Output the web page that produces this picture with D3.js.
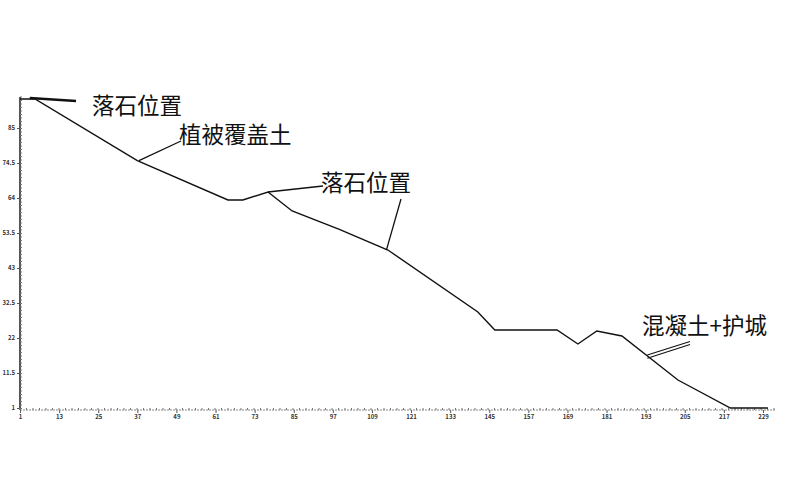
<!DOCTYPE html>
<html>
<head>
<meta charset="utf-8">
<script src="https://cdn.jsdelivr.net/npm/d3@7"></script>
<style>
  body { margin: 0; background: #fff; }
  svg text { font-family: "Noto Sans CJK SC", "DejaVu Sans", sans-serif; }
</style>
</head>
<body>
<div id="chart"></div>
<script>
// profile: distance along slope vs elevation
const distance  = [1, 5.6, 37, 64.8, 69.4, 77.1, 84.5, 99, 113.9, 141.5, 146.7, 165.8, 172.2, 178.0, 185.7, 202.9, 219, 230.5];
const elevation = [93.7, 93.7, 75.2, 63.4, 63.4, 65.8, 60.1, 54.6, 48.4, 29.8, 24.4, 24.4, 20.2, 24.1, 22.6, 9.4, 1, 1];

const xTicks = [1, 13, 25, 37, 49, 61, 73, 85, 97, 109, 121, 133, 145, 157, 169, 181, 193, 205, 217, 229];
const yTicks = [1, 11.5, 22, 32.5, 43, 53.5, 64, 74.5, 85];

// labels: text, point on profile it refers to, where the text sits, pointer start
const notes = [
  {text: "落石位置",    px: 4,     py: 94,   tx: 92,  ty: 114, lx: 76,  ly: 101, w: 2.6, dbl: false},
  {text: "植被覆盖土",  px: 37.5,  py: 75.2, tx: 179, ty: 143, lx: 181, ly: 141, w: 1.3, dbl: false},
  {text: "落石位置",    px: 77.1,  py: 65.8, tx: 321, ty: 191, lx: 323, ly: 186, w: 1.3, dbl: false},
  {text: "",            px: 113.5, py: 48.6, tx: 0,   ty: 0,   lx: 401, ly: 199, w: 1.3, dbl: false},
  {text: "混凝土+护城", px: 193.5, py: 16.4, tx: 642, ty: 334, lx: 690, ly: 343, w: 1.1, dbl: true}
];

const width = 800, height = 500;

const svg = d3.select("#chart").append("svg")
  .attr("width", width).attr("height", height);

const x = d3.scaleLinear().domain([1, 229]).range([20, 763]);
const y = d3.scaleLinear().domain([1, 85]).range([408, 128]);

const axisColor = "#555";

// y axis
const yAxis = svg.append("g").attr("transform", "translate(20,0)")
  .call(d3.axisLeft(y).tickValues(yTicks).tickSize(3).tickFormat(d => d));
yAxis.select(".domain").remove();
yAxis.append("line").attr("x1", 0).attr("x2", 0).attr("y1", 97).attr("y2", 410)
  .attr("stroke", axisColor).attr("stroke-width", 2);
yAxis.selectAll("text").attr("font-size", 6).attr("font-weight", "bold").attr("fill", "#333").attr("x", -5);
yAxis.selectAll(".tick line").attr("stroke", axisColor);
yAxis.selectAll(".minor").data(d3.range(0, 314, 3.5)).enter().append("line")
  .attr("x1", 0).attr("x2", 2).attr("y1", d => 97 + d).attr("y2", d => 97 + d)
  .attr("stroke", "#777").attr("stroke-width", 1);

// x axis
const xAxis = svg.append("g").attr("transform", "translate(0,410)")
  .call(d3.axisBottom(x).tickValues(xTicks).tickSize(3).tickFormat(d => d));
xAxis.select(".domain").remove();
xAxis.append("line").attr("x1", 20).attr("x2", 775).attr("y1", 0).attr("y2", 0)
  .attr("stroke", "#888").attr("stroke-width", 1).attr("stroke-dasharray", "2,1");
xAxis.selectAll("text").attr("font-size", 6).attr("font-weight", "bold").attr("fill", "#333").attr("y", 5);
xAxis.selectAll(".tick line").attr("stroke", axisColor);
xAxis.selectAll(".minor").data(d3.range(20, 775, 6.5)).enter().append("line")
  .attr("x1", d => d).attr("x2", d => d).attr("y1", 0).attr("y2", -2)
  .attr("stroke", "#777").attr("stroke-width", 1);

// profile line
const points = distance.map((d, i) => [d, elevation[i]]);
svg.append("path")
  .datum(points)
  .attr("fill", "none")
  .attr("stroke", "#111")
  .attr("stroke-width", 1.4)
  .attr("d", d3.line().x(d => x(d[0])).y(d => y(d[1])));

// annotation pointers and labels
notes.forEach(n => {
  const offs = n.dbl ? [-1.6, 1.6] : [0];
  offs.forEach(o => {
    svg.append("line")
      .attr("x1", n.lx).attr("y1", n.ly + o)
      .attr("x2", x(n.px)).attr("y2", y(n.py) + o)
      .attr("stroke", "#111").attr("stroke-width", n.w);
  });
  if (n.text) {
    svg.append("text").attr("x", n.tx).attr("y", n.ty)
      .attr("font-size", 22.5).attr("fill", "#111").text(n.text);
  }
});
</script>
</body>
</html>
